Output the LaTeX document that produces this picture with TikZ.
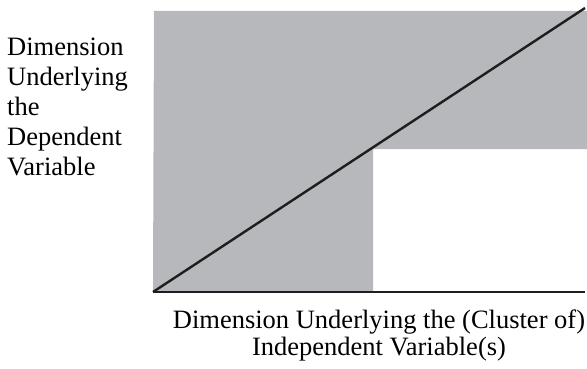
\documentclass[tikz,border=0pt]{standalone}
\usepackage{fontspec}
\setmainfont{Liberation Serif}
\usepackage{tikz}
\usetikzlibrary{calc,positioning}
\usepackage{xcolor}
\definecolor{regiongray}{RGB}{183,184,187}
\definecolor{linedark}{RGB}{30,30,30}

\begin{document}
\begin{tikzpicture}[x=1pt,y=-1pt]
  \useasboundingbox (0,0) rectangle (587,369);
  \coordinate (O) at (153,292); \coordinate (E) at (585,292); \coordinate (T) at (585,8);
  \coordinate (G1) at (154,11); \coordinate (G2) at (587,11); \coordinate (G3) at (587,149);
  \coordinate (S1) at (373,149); \coordinate (S2) at (373,292);
  \fill[regiongray] (G1)--(G2)--(G3)--(S1)--(S2)--(O|-S2)--cycle;
  \draw[line width=2.4pt,linedark] (O)--(E);
  \draw[line width=2.4pt,linedark] (O)--(T);
  \node[font=\fontsize{26.5}{30}\selectfont,align=left,anchor=north west,inner sep=0pt] (ylab) at (7,38) {Dimension\\Underlying\\the\\Dependent\\Variable};
  \node[font=\fontsize{26.5}{27}\selectfont,align=center,anchor=north,inner sep=0pt] (xlab) at (379,310) {Dimension Underlying the (Cluster of)\\Independent Variable(s)};
\end{tikzpicture}
\end{document}
